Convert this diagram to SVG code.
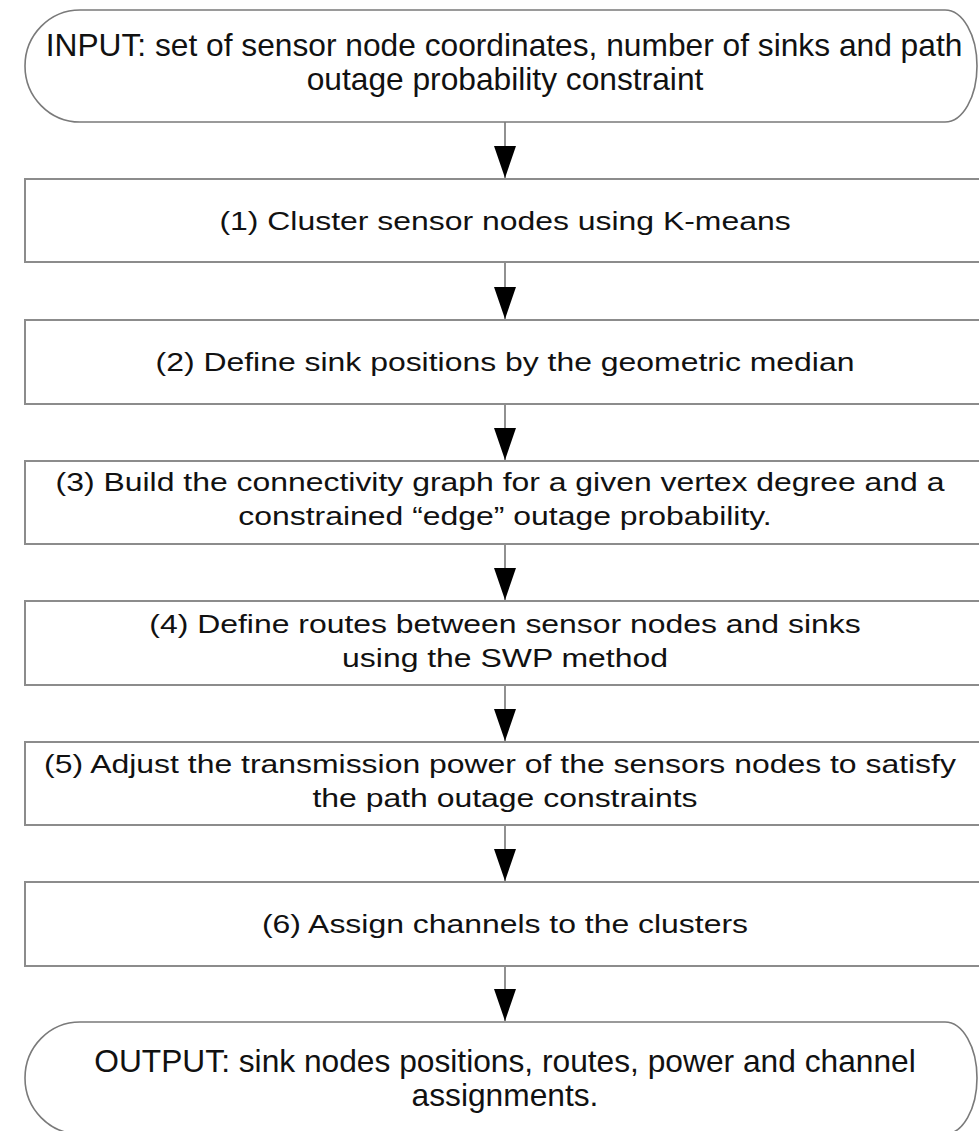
<svg xmlns="http://www.w3.org/2000/svg" width="979" height="1131" viewBox="0 0 979 1131">
<style>
.term{fill:#fff;stroke:#7a7a7a;stroke-width:1.6}
.box{fill:#fff;stroke:#8c8c8c;stroke-width:2}
.ttxt{font-family:"Liberation Sans",Arial,sans-serif;font-size:30.5px;fill:#111;text-anchor:middle}
.btxt{font-family:"Liberation Sans",Arial,sans-serif;font-size:26.6px;fill:#111;text-anchor:middle}
.conn{stroke:#555;stroke-width:1.3;fill:none;marker-end:url(#ah)}
</style>
<defs>
<marker id="ah" viewBox="0 0 32 22" refX="32" refY="11" markerWidth="32" markerHeight="22" markerUnits="userSpaceOnUse" orient="auto">
<path d="M0,0 L32,11 L0,22 z" fill="#000"/>
</marker>
</defs>
<rect width="979" height="1131" fill="#fff"/>
<g id="connectors">
<line class="conn" x1="505" y1="122" x2="505" y2="178"/>
<line class="conn" x1="505" y1="262" x2="505" y2="319"/>
<line class="conn" x1="505" y1="404" x2="505" y2="460"/>
<line class="conn" x1="505" y1="544" x2="505" y2="600"/>
<line class="conn" x1="505" y1="685" x2="505" y2="741"/>
<line class="conn" x1="505" y1="825" x2="505" y2="881"/>
<line class="conn" x1="505" y1="966" x2="505" y2="1021"/>
</g>
<g id="input">
<path class="term" d="M80,10 H945 A32,56 0 0 1 945,122 H80 A55,56 0 0 1 80,10 Z"/>
<text class="ttxt" transform="translate(504,56) scale(1.04,1)" x="0" y="0">INPUT: set of sensor node coordinates, number of sinks and path</text>
<text class="ttxt" transform="translate(505,90) scale(1.04,1)" x="0" y="0">outage probability constraint</text>
</g>
<g id="step1">
<rect class="box" x="25" y="179" width="962" height="83"/>
<text class="btxt" transform="translate(505,230) scale(1.2,1)" x="0" y="0">(1) Cluster sensor nodes using K-means</text>
</g>
<g id="step2">
<rect class="box" x="25" y="320" width="962" height="84"/>
<text class="btxt" transform="translate(505,371) scale(1.2,1)" x="0" y="0">(2) Define sink positions by the geometric median</text>
</g>
<g id="step3">
<rect class="box" x="25" y="461" width="962" height="83"/>
<text class="btxt" transform="translate(500,491) scale(1.2,1)" x="0" y="0">(3) Build the connectivity graph for a given vertex degree and a</text>
<text class="btxt" transform="translate(505,525) scale(1.2,1)" x="0" y="0">constrained “edge” outage probability.</text>
</g>
<g id="step4">
<rect class="box" x="25" y="601" width="962" height="84"/>
<text class="btxt" transform="translate(505,633) scale(1.2,1)" x="0" y="0">(4) Define routes between sensor nodes and sinks</text>
<text class="btxt" transform="translate(505,667) scale(1.2,1)" x="0" y="0">using the SWP method</text>
</g>
<g id="step5">
<rect class="box" x="25" y="742" width="962" height="83"/>
<text class="btxt" transform="translate(500,773) scale(1.2,1)" x="0" y="0">(5) Adjust the transmission power of the sensors nodes to satisfy</text>
<text class="btxt" transform="translate(505,807) scale(1.2,1)" x="0" y="0">the path outage constraints</text>
</g>
<g id="step6">
<rect class="box" x="25" y="882" width="962" height="84"/>
<text class="btxt" transform="translate(505,933) scale(1.2,1)" x="0" y="0">(6) Assign channels to the clusters</text>
</g>
<g id="output">
<path class="term" d="M80,1022 H945 A32,56 0 0 1 945,1134 H80 A55,56 0 0 1 80,1022 Z"/>
<text class="ttxt" transform="translate(505,1072) scale(1.04,1)" x="0" y="0">OUTPUT: sink nodes positions, routes, power and channel</text>
<text class="ttxt" transform="translate(505,1106) scale(1.04,1)" x="0" y="0">assignments.</text>
</g>
</svg>
